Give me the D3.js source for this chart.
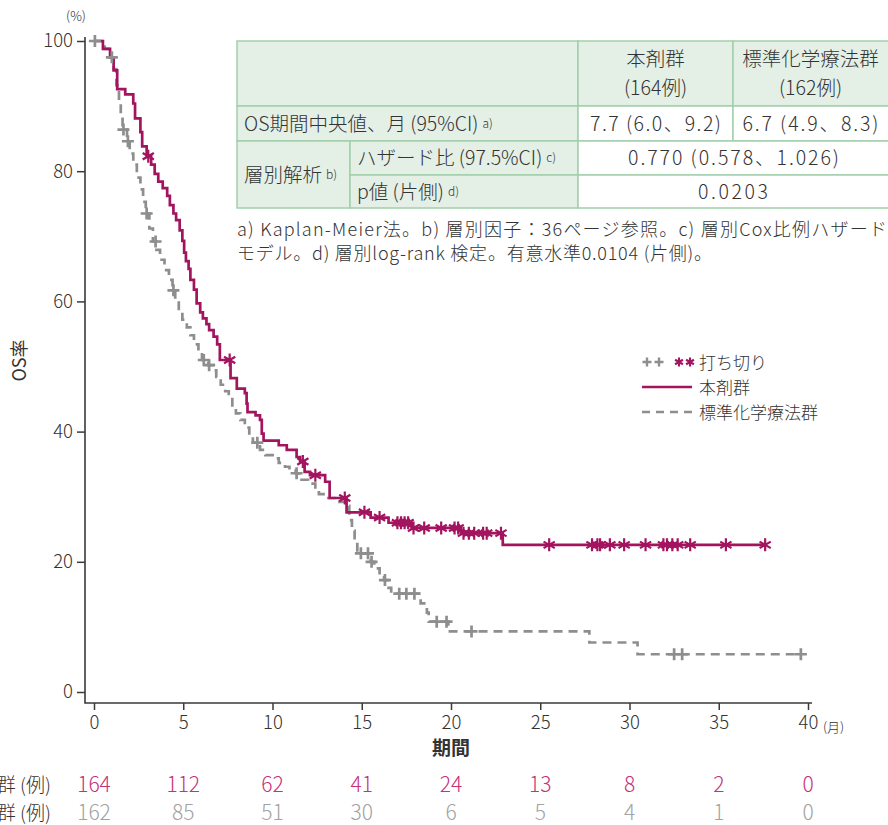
<!DOCTYPE html>
<html lang="ja">
<head>
<meta charset="utf-8">
<script src="https://cdn.jsdelivr.net/npm/d3@7"></script>
<style>
  html, body { margin: 0; padding: 0; background: #fff; }
  svg { display: block; }
  text { font-family: "Noto Sans CJK JP", "Noto Sans", sans-serif; font-weight: 300; fill: #333; }
</style>
</head>
<body>
<svg id="chart" width="888" height="825"></svg>
<script>
// ---- data -------------------------------------------------------------
const monthTicks = [0, 5, 10, 15, 20, 25, 30, 35, 40];
const pctTicks = [0, 20, 40, 60, 80, 100];

// 本剤群: Kaplan-Meier steps [month, OS %]
const drugSteps = [
  [0, 100], [0.5, 98.8], [0.9, 97.5], [1.1, 95.5], [1.3, 92.6], [1.75, 91.8],
  [2.2, 90.4], [2.3, 88.1], [2.6, 86.0], [2.7, 83.8], [2.95, 82.3], [3.2, 81.0],
  [3.4, 79.6], [3.6, 78.4], [3.85, 77.4], [4.1, 76.2], [4.25, 74.8], [4.45, 73.5],
  [4.6, 72.5], [4.8, 70.9], [4.95, 69.3], [5.05, 67.5], [5.15, 66.2], [5.3, 65.0],
  [5.4, 63.3], [5.6, 61.8], [5.75, 59.7], [5.95, 58.3], [6.1, 57.4], [6.3, 56.5],
  [6.45, 55.6], [6.7, 54.6], [6.9, 53.4], [7.05, 51.0], [7.65, 48.2], [8.0, 46.6],
  [8.45, 45.9], [8.55, 44.3], [8.6, 43.0], [9.05, 42.5], [9.3, 41.8], [9.4, 39.7],
  [9.5, 38.6], [10.35, 37.9], [10.8, 37.2], [11.35, 36.1], [11.55, 35.4], [11.8, 33.8],
  [12.1, 33.3], [12.95, 32.3], [13.2, 29.8], [14.15, 27.6], [15.5, 26.8], [16.5, 26.0],
  [17.8, 25.2], [20.55, 24.4], [22.9, 22.6]
];
const drugCensor = [
  3.04, 7.6, 11.7, 12.4, 14.05, 15.15, 16.0, 17.0, 17.2, 17.4, 17.6, 17.9, 18.5,
  19.45, 20.2, 20.4, 20.7, 21.0, 21.3, 21.8, 22.0, 22.8, 25.5, 27.9, 28.2, 28.35,
  28.9, 29.7, 30.9, 31.9, 32.1, 32.4, 32.7, 33.4, 35.4, 37.6
];

// 標準化学療法群: Kaplan-Meier steps [month, OS %]
const chemoSteps = [
  [0, 100], [0.6, 98.8], [0.95, 97.5], [1.1, 95.7], [1.25, 93.2], [1.4, 90.7],
  [1.5, 88.3], [1.6, 86.4], [1.85, 84.6], [2.0, 82.7], [2.2, 81.0], [2.4, 79.0],
  [2.6, 77.2], [2.75, 75.3], [2.9, 73.5], [3.1, 71.2], [3.3, 69.2], [3.5, 67.9],
  [3.7, 66.4], [3.95, 64.8], [4.2, 63.3], [4.4, 61.7], [4.55, 60.2], [4.75, 58.6],
  [4.95, 57.2], [5.2, 56.0], [5.4, 54.8], [5.6, 53.4], [5.85, 52.1], [6.05, 51.0],
  [6.4, 50.2], [6.7, 49.4], [6.85, 48.4], [7.1, 47.2], [7.35, 46.2], [7.55, 45.0],
  [7.75, 43.8], [7.95, 42.8], [8.2, 41.8], [8.45, 40.6], [8.7, 39.5], [8.9, 38.3],
  [9.3, 37.2], [9.6, 36.4], [10.1, 35.9], [10.35, 35.2], [10.7, 34.6], [10.95, 34.0],
  [11.3, 33.6], [11.5, 32.6], [12.0, 32.0], [12.4, 31.2], [12.6, 30.4], [13.0, 29.8],
  [13.6, 29.2], [14.1, 28.6], [14.3, 26.4], [14.45, 24.8], [14.6, 23.3], [14.75, 21.3],
  [15.5, 20.0], [15.7, 19.0], [16.0, 18.0], [16.25, 17.2], [16.5, 16.0], [16.65, 15.1],
  [18.3, 13.6], [18.65, 12.2], [18.75, 10.8], [19.85, 9.3], [27.75, 7.6], [30.45, 5.8]
];
const chemoCensor = [
  0.05, 1.0, 1.65, 1.9, 2.95, 3.45, 4.45, 6.15, 6.45, 9.15, 11.35, 14.95, 15.35,
  15.55, 16.3, 17.1, 17.5, 17.95, 19.2, 19.75, 21.15, 32.5, 32.95, 39.6
];

const riskDrug = [164, 112, 62, 41, 24, 13, 8, 2, 0];
const riskChemo = [162, 85, 51, 30, 6, 5, 4, 1, 0];

const groupNames = ["本剤群", "標準化学療法群"];
const groupCounts = ["(164例)", "(162例)"];
const medianOS = ["7.7 (6.0、9.2)", "6.7 (4.9、8.3)"];
const hazardRatio = "0.770 (0.578、1.026)";
const pValue = "0.0203";
const footnotes = [
  "a) Kaplan-Meier法。b) 層別因子：36ページ参照。c) 層別Cox比例ハザード",
  "モデル。d) 層別log-rank 検定。有意水準0.0104 (片側)。"
];

// ---- styles -------------------------------------------------------------
const MAGENTA = "#a3145f";
const MAGENTA_TXT = "#c4327a";
const GRAY = "#8e8e8e";
const GRAY_TXT = "#a2a2a2";
const AXIS = "#3a3a3a";
const CELL_FILL = "#e4efe6";
const CELL_LINE = "#a3cfac";

const svg = d3.select("#chart");

const x = d3.scaleLinear().domain([0, 40]).range([94, 808]);
const y = d3.scaleLinear().domain([0, 100]).range([692, 41]);
const axisY0 = 703;   // baseline of the offset x-axis
const axisX0 = 85;    // position of the offset y-axis

// ---- axes -------------------------------------------------------------
const gy = svg.append("g").attr("transform", `translate(${axisX0},0)`)
  .call(d3.axisLeft(y).tickValues(pctTicks).tickSize(8).tickPadding(4));
gy.select(".domain").remove();
gy.selectAll(".tick line").attr("stroke", AXIS).attr("stroke-width", 1.5);
gy.selectAll(".tick text").style("font-size", "18.5px").attr("fill", "#333");

const gx = svg.append("g").attr("transform", `translate(0,${axisY0})`)
  .call(d3.axisBottom(x).tickValues(monthTicks).tickSize(7).tickPadding(6));
gx.select(".domain").remove();
gx.selectAll(".tick line").attr("stroke", AXIS).attr("stroke-width", 1.5);
gx.selectAll(".tick text").style("font-size", "18.5px").attr("fill", "#333");
svg.selectAll(".tick text").attr("font-family", null);

svg.append("path")
  .attr("d", `M${axisX0},37 V${axisY0} H${x(40) + 4}`)
  .attr("fill", "none").attr("stroke", AXIS).attr("stroke-width", 1.6);

svg.append("text").attr("x", 76).attr("y", 21).attr("text-anchor", "middle")
  .style("font-size", "13px").text("(%)");
svg.append("text").attr("x", x(40) + 15).attr("y", axisY0 + 29)
  .style("font-size", "13px").text("(月)");
svg.append("text").attr("x", x(20)).attr("y", 755).attr("text-anchor", "middle")
  .style("font-size", "19px").style("font-weight", 700).text("期間");
svg.append("text")
  .attr("transform", `translate(26,${y(50) - 6}) rotate(-90)`)
  .attr("text-anchor", "middle").style("font-size", "18px").style("font-weight", 400).text("OS率");

// ---- curves -------------------------------------------------------------
const survAt = (steps, t) => {
  let s = steps[0][1];
  for (const [tt, v] of steps) { if (tt <= t) s = v; else break; }
  return s;
};
const stepLine = d3.line().x(d => x(d[0])).y(d => y(d[1])).curve(d3.curveStepAfter);

function withEnd(steps, censor) {
  const tEnd = d3.max(censor);
  return steps.concat([[tEnd, survAt(steps, tEnd)]]);
}

svg.append("path")
  .datum(withEnd(chemoSteps, chemoCensor))
  .attr("d", stepLine).attr("fill", "none")
  .attr("stroke", GRAY).attr("stroke-width", 2.7).attr("stroke-dasharray", "9,6");

svg.append("path")
  .datum(withEnd(drugSteps, drugCensor))
  .attr("d", stepLine).attr("fill", "none")
  .attr("stroke", MAGENTA).attr("stroke-width", 2.7);

const plusPath = "M-6,0H6M0,-6V6";
const starPath = "M0,-6.5V6.5M-5.6,-3.25L5.6,3.25M-5.6,3.25L5.6,-3.25";

svg.append("g").selectAll("path").data(chemoCensor).join("path")
  .attr("transform", d => `translate(${x(d)},${y(survAt(chemoSteps, d))})`)
  .attr("d", plusPath).attr("stroke", GRAY).attr("stroke-width", 2.7).attr("fill", "none");

svg.append("g").selectAll("path").data(drugCensor).join("path")
  .attr("transform", d => `translate(${x(d)},${y(survAt(drugSteps, d))})`)
  .attr("d", starPath).attr("stroke", MAGENTA).attr("stroke-width", 2.2).attr("fill", "none");

// ---- legend -------------------------------------------------------------
const lg = svg.append("g").attr("transform", "translate(642,362)");
[5, 17].forEach(dx => lg.append("path").attr("transform", `translate(${dx},0) scale(0.75)`)
  .attr("d", plusPath).attr("stroke", GRAY).attr("stroke-width", 3.2).attr("fill", "none"));
[37, 48].forEach(dx => lg.append("path").attr("transform", `translate(${dx},0) scale(0.7)`)
  .attr("d", starPath).attr("stroke", MAGENTA).attr("stroke-width", 3).attr("fill", "none"));
lg.append("text").attr("x", 57).attr("y", 7).style("font-size", "17px").text("打ち切り");
lg.append("line").attr("x1", 0).attr("x2", 50).attr("y1", 25).attr("y2", 25)
  .attr("stroke", MAGENTA).attr("stroke-width", 2.7);
lg.append("text").attr("x", 57).attr("y", 32).style("font-size", "17px").text(groupNames[0]);
lg.append("line").attr("x1", 0).attr("x2", 50).attr("y1", 50).attr("y2", 50)
  .attr("stroke", GRAY).attr("stroke-width", 2.7).attr("stroke-dasharray", "8,6");
lg.append("text").attr("x", 57).attr("y", 57).style("font-size", "17px").text(groupNames[1]);

// ---- number at risk -------------------------------------------------------
const riskRows = [
  { label: groupNames[0] + " (例)", vals: riskDrug, color: MAGENTA_TXT, yy: 792 },
  { label: groupNames[1] + " (例)", vals: riskChemo, color: GRAY_TXT, yy: 820 }
];
riskRows.forEach(r => {
  svg.append("text").attr("x", 51).attr("y", r.yy).attr("text-anchor", "end")
    .style("font-size", "19px").text(r.label);
  svg.append("g").selectAll("text").data(r.vals).join("text")
    .attr("x", (d, i) => x(monthTicks[i])).attr("y", r.yy)
    .attr("text-anchor", "middle").style("font-size", "21px")
    .style("fill", r.color).text(d => d);
});

// ---- summary table -------------------------------------------------------
const tb = { x0: 237, xs: 350, x1: 578, x2: 733, x3: 888, r0: 41, r1: 106, r2: 141, r3: 175, r4: 208 };
const tg = svg.append("g");
const cell = (x0, y0, x1, y1, fill) => tg.append("rect")
  .attr("x", x0).attr("y", y0).attr("width", x1 - x0).attr("height", y1 - y0)
  .attr("fill", fill).attr("stroke", CELL_LINE).attr("stroke-width", 1.5);
cell(tb.x0, tb.r0, tb.x1, tb.r1, CELL_FILL);
cell(tb.x1, tb.r0, tb.x2, tb.r1, CELL_FILL);
cell(tb.x2, tb.r0, tb.x3 + 2, tb.r1, CELL_FILL);
cell(tb.x0, tb.r1, tb.x1, tb.r2, CELL_FILL);
cell(tb.x1, tb.r1, tb.x2, tb.r2, "#fff");
cell(tb.x2, tb.r1, tb.x3 + 2, tb.r2, "#fff");
cell(tb.x0, tb.r2, tb.xs, tb.r4, CELL_FILL);
cell(tb.xs, tb.r2, tb.x1, tb.r3, CELL_FILL);
cell(tb.xs, tb.r3, tb.x1, tb.r4, CELL_FILL);
cell(tb.x1, tb.r2, tb.x3 + 2, tb.r3, "#fff");
cell(tb.x1, tb.r3, tb.x3 + 2, tb.r4, "#fff");

const T = (tx, ty, str, anchor = "start", size = 19, len = null) => {
  const t = tg.append("text")
    .attr("x", tx).attr("y", ty).attr("text-anchor", anchor)
    .style("font-size", size + "px").text(str);
  if (len) t.attr("textLength", len).attr("lengthAdjust", "spacing");
  return t;
};
const sup = (node, str) => node.append("tspan").attr("dx", 4).attr("dy", -3)
  .style("font-size", "12px").text(str);

const valueWidths = [131, 136];
[0, 1].forEach(i => {
  const cx = i === 0 ? (tb.x1 + tb.x2) / 2 : (tb.x2 + tb.x3) / 2;
  T(cx, 66, groupNames[i], "middle", 19.5);
  T(cx, 95, groupCounts[i], "middle", 19.5);
  T(cx, 131, medianOS[i], "middle", 19.5, valueWidths[i]);
});
sup(T(244, 131, "OS期間中央値、月 (95%CI)", "start", 19.5), "a)");
sup(T(244, 182, "層別解析", "start", 19.5), "b)");
sup(T(357, 165, "ハザード比 (97.5%CI)", "start", 19.5), "c)");
sup(T(357, 199, "p値 (片側)", "start", 19.5), "d)");
T((tb.x1 + tb.x3) / 2 + 0.5, 165, hazardRatio, "middle", 19.5, 211);
T((tb.x1 + tb.x3) / 2, 199, pValue, "middle", 19.5, 70);

const footWidths = [650, 475];
footnotes.forEach((f, i) => {
  svg.append("text").attr("x", 237).attr("y", 236 + i * 24)
    .attr("textLength", footWidths[i]).attr("lengthAdjust", "spacing")
    .style("font-size", "18px").text(f);
});
</script>
</body>
</html>
